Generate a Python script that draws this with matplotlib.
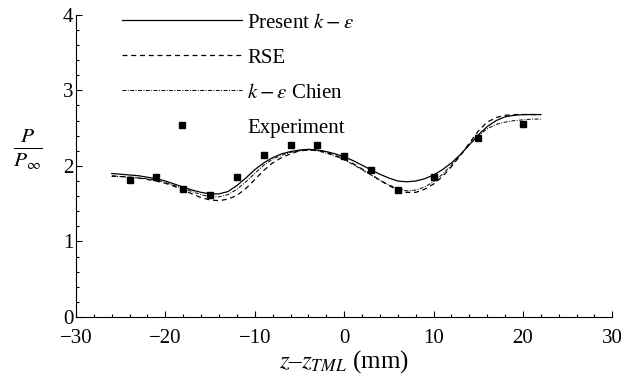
import numpy as np
import matplotlib
matplotlib.use('Agg')
import matplotlib.pyplot as plt
from matplotlib.ticker import MultipleLocator

plt.rcParams['font.family'] = ['Liberation Serif', 'DejaVu Serif']
plt.rcParams['mathtext.fontset'] = 'stix'

# 曲线数据 (z - z_TML, mm)
z_curve = list(range(-26, 23))
present_ke = [1.90, 1.89, 1.88, 1.87, 1.85, 1.83, 1.80, 1.76, 1.72, 1.68,
              1.65, 1.63, 1.63, 1.66, 1.74, 1.84, 1.95, 2.04, 2.11, 2.16,
              2.19, 2.21, 2.22, 2.21, 2.19, 2.16, 2.12, 2.07, 2.01, 1.95,
              1.89, 1.84, 1.80, 1.79, 1.80, 1.83, 1.88, 1.95, 2.04, 2.15,
              2.28, 2.41, 2.52, 2.60, 2.65, 2.67, 2.68, 2.68, 2.68]
rse = [1.87, 1.86, 1.85, 1.84, 1.82, 1.80, 1.77, 1.73, 1.68, 1.63,
       1.58, 1.55, 1.54, 1.56, 1.61, 1.70, 1.82, 1.94, 2.04, 2.11,
       2.16, 2.20, 2.21, 2.21, 2.18, 2.14, 2.09, 2.03, 1.96, 1.89,
       1.81, 1.74, 1.68, 1.65, 1.65, 1.69, 1.76, 1.86, 1.99, 2.14,
       2.30, 2.46, 2.58, 2.64, 2.67, 2.68, 2.68, 2.68, 2.68]
ke_chien = [1.86, 1.86, 1.85, 1.84, 1.83, 1.81, 1.78, 1.74, 1.70, 1.66,
            1.62, 1.59, 1.59, 1.62, 1.69, 1.79, 1.90, 2.01, 2.09, 2.14,
            2.18, 2.20, 2.21, 2.20, 2.17, 2.13, 2.08, 2.02, 1.95, 1.88,
            1.81, 1.75, 1.70, 1.67, 1.68, 1.72, 1.79, 1.89, 2.01, 2.14,
            2.28, 2.40, 2.49, 2.55, 2.58, 2.60, 2.61, 2.62, 2.62]

# 实验数据
z_exp = [-24, -21, -18, -15, -12, -9, -6, -3, 0, 3, 6, 10, 15, 20]
p_exp = [1.82, 1.85, 1.70, 1.62, 1.85, 2.15, 2.28, 2.28, 2.13, 1.94,
         1.68, 1.86, 2.37, 2.56]

fig = plt.figure(figsize=(6.28, 3.81), dpi=100)
ax = fig.add_axes([0.121, 0.168, 0.854, 0.793])

ax.plot(z_curve, present_ke, 'k-', linewidth=0.9, label=r'Present $k-\epsilon$')
ax.plot(z_curve, rse, 'k--', linewidth=0.9, dashes=(4, 3), label='RSE')
ax.plot(z_curve, ke_chien, 'k-.', linewidth=0.7, dashes=(4, 1.5, 1, 1.5),
        label=r'$k-\epsilon$ Chien')
ax.plot(z_exp, p_exp, 'ks', markersize=5, linestyle='none', label='Experiment')

ax.set_xlim(-30, 30)
ax.set_ylim(0, 4)
ax.xaxis.set_major_locator(MultipleLocator(10))
ax.xaxis.set_minor_locator(MultipleLocator(2))
ax.yaxis.set_major_locator(MultipleLocator(1))
ax.yaxis.set_minor_locator(MultipleLocator(0.2))
ax.tick_params(which='both', direction='in', labelsize=15, width=0.8)
ax.tick_params(which='major', length=4)
ax.tick_params(which='minor', length=2)
ax.tick_params(axis='x', pad=9)
ax.tick_params(axis='y', pad=2)
ax.spines['top'].set_visible(False)
ax.spines['right'].set_visible(False)

ax.set_xlabel(r'$z$–$z_{TML}$ (mm)', fontsize=18, labelpad=0)
ax.set_ylabel(r'$\frac{P}{P_\infty}$', fontsize=22, rotation=0, va='center',
              ha='center')
ax.yaxis.set_label_coords(-0.09, 0.556)

ax.legend(loc='upper left', bbox_to_anchor=(122 / 628, 1 - 13 / 381),
          bbox_transform=fig.transFigure, frameon=False, fontsize=15,
          borderpad=0, handlelength=5.76, handletextpad=0.24, labelspacing=0.74,
          borderaxespad=0)

fig.savefig('out.png', dpi=100)
